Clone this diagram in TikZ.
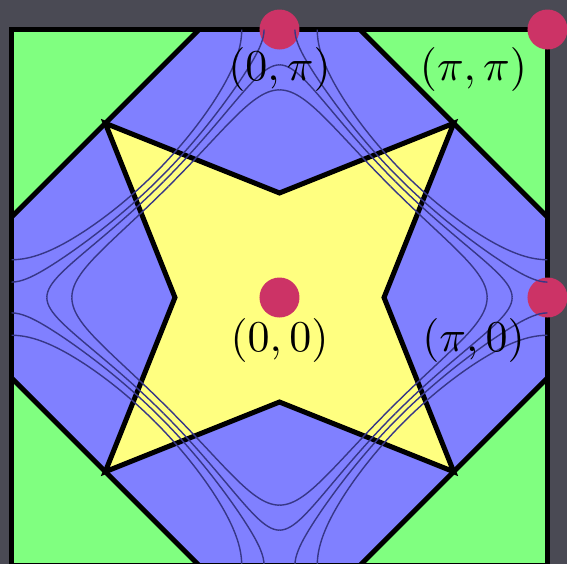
\documentclass[tikz,border=0pt]{standalone}
\definecolor{bgc}{RGB}{74,74,84}
\definecolor{gr}{RGB}{128,255,128}
\definecolor{bl}{RGB}{128,128,255}
\definecolor{ye}{RGB}{255,255,128}
\definecolor{dotc}{RGB}{204,51,102}
\definecolor{cont}{RGB}{55,55,135}
\newcommand\mycontour[4]{% level, from, to, samples
  \draw[contour] plot[domain=#2:#3, samples=#4, smooth] (\x,{rad(acos((#1-cos(\x r))/(1-0.35*cos(\x r))))});
  \draw[contour] plot[domain=#2:#3, samples=#4, smooth] ({rad(acos((#1-cos(\x r))/(1-0.35*cos(\x r))))},\x);
}
\newcommand\biglab[1]{\scalebox{4.4}{$#1$}}
\begin{document}
\begin{tikzpicture}[x=268pt,y=268pt,
  edge/.style={line width=5pt, line join=miter},
  dotn/.style={circle, fill=dotc, minimum size=40pt, inner sep=0pt},
  lab/.style={inner sep=0pt},
  contour/.style={cont, line width=1.4pt}]
\fill[bgc] (-1.0429,-0.9944) rectangle (1.0728,1.1101);
\useasboundingbox (-1.0429,-0.9944) rectangle (1.0728,1.1101);
% regions
\fill[gr] (-1,-1) rectangle (1,1);
\fill[bl] (-1,0.3) -- (-0.3,1) -- (0.3,1) -- (1,0.3) -- (1,-0.3) -- (0.3,-1) -- (-0.3,-1) -- (-1,-0.3) -- cycle;
\fill[ye] (-0.65,0.65) -- (0,0.39) -- (0.65,0.65) -- (0.39,0) -- (0.65,-0.65) -- (0,-0.39) -- (-0.65,-0.65) -- (-0.39,0) -- cycle;
% edges
\draw[edge] (-1,0.3) -- (-0.3,1) (0.3,1) -- (1,0.3) (1,-0.3) -- (0.3,-1) (-0.3,-1) -- (-1,-0.3);
\draw[edge] (-0.65,0.65) -- (0,0.39) -- (0.65,0.65) -- (0.39,0) -- (0.65,-0.65) -- (0,-0.39) -- (-0.65,-0.65) -- (-0.39,0) -- cycle;
\draw[line width=5.5pt] (-1,-1) rectangle (1,1);
% points
\node[dotn] (G) at (0,0) {};
\node[dotn] (X) at (0,1) {};
\node[dotn] (M) at (1,1) {};
\node[dotn] (Y) at (1,0) {};
% contours
\begin{scope}
\clip (-1.011,-1.011) rectangle (1.011,1.011);
\begin{scope}[x=85.307pt,y=85.307pt]
\foreach \sx/\sy in {1/1,1/-1,-1/1,-1/-1}{
  \begin{scope}[xscale=\sx,yscale=\sy]
    \mycontour{0.506}{0}{1.3024}{40}
    \mycontour{0.405}{0}{1.3591}{40}
    \mycontour{0.328}{1.4010}{3.1416}{40}
    \mycontour{0.220}{1.4584}{3.1416}{40}
  \end{scope}
}
\end{scope}
\end{scope}
% labels
\node[lab] (lG) at (0,-0.16) {\biglab{(0,0)}};
\node[lab] (lY) at (0.724,-0.16) {\biglab{(\pi,0)}};
\node[lab] (lX) at (0,0.851) {\biglab{(0,\pi)}};
\node[lab] (lM) at (0.724,0.851) {\biglab{(\pi,\pi)}};
\end{tikzpicture}
\end{document}
